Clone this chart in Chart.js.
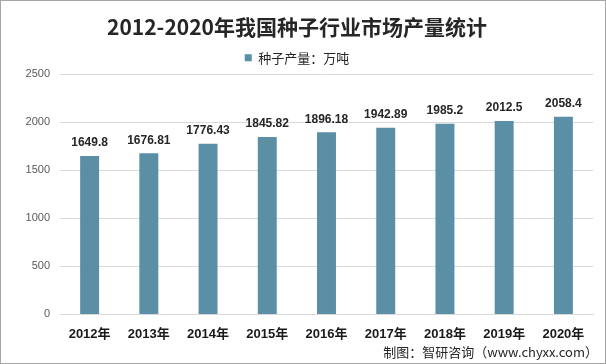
<!DOCTYPE html>
<html><head><meta charset="utf-8">
<script src="https://cdn.jsdelivr.net/npm/chart.js@4"></script>
<style>
html,body{margin:0;padding:0;background:#fff;}
#wrap{position:relative;width:606px;height:364px;box-sizing:border-box;border:1px solid #a6a6a6;}
canvas{display:block;}
</style></head><body>
<div id="wrap"><canvas id="c" width="604" height="362"></canvas></div>
<script>
const categories = ['2012年','2013年','2014年','2015年','2016年','2017年','2018年','2019年','2020年'];
const production = [1649.8, 1676.81, 1776.43, 1845.82, 1896.18, 1942.89, 1985.2, 2012.5, 2058.4];
const valueLabels = ['1649.8','1676.81','1776.43','1845.82','1896.18','1942.89','1985.2','2012.5','2058.4'];
const seriesName = '种子产量：万吨';
const titleText = '2012-2020年我国种子行业市场产量统计';
const sourceText = '制图：智研咨询（www.chyxx.com）';

const CJK = '"Noto Sans CJK SC", "Noto Sans", sans-serif';

const labelPlugin = {
  id: 'vals',
  afterDatasetsDraw(chart) {
    const ctx = chart.ctx;
    const meta = chart.getDatasetMeta(0);
    ctx.save();
    ctx.font = 'bold 12px "Liberation Sans", Arial, sans-serif';
    ctx.fillStyle = '#262626';
    ctx.textAlign = 'center';
    ctx.textBaseline = 'middle';
    meta.data.forEach((bar, i) => {
      ctx.fillText(valueLabels[i], bar.x, bar.y - 13);
    });
    ctx.restore();
  },
  afterDraw(chart) {
    const ctx = chart.ctx;
    ctx.save();
    ctx.font = '13px ' + CJK;
    ctx.fillStyle = '#262626';
    ctx.textAlign = 'right';
    ctx.textBaseline = 'middle';
    ctx.fillText(sourceText, 597, 351);
    ctx.restore();
  }
};

new Chart(document.getElementById('c'), {
  type: 'bar',
  data: {
    labels: categories,
    datasets: [{
      label: seriesName,
      data: production,
      backgroundColor: '#5a8fa6',
      borderWidth: 0,
      barPercentage: 0.32,
      categoryPercentage: 1.0
    }]
  },
  options: {
    responsive: false,
    animation: false,
    devicePixelRatio: 1,
    layout: { padding: { left: 0, right: 12, top: 0, bottom: 9 } },
    plugins: {
      title: {
        display: true,
        text: titleText,
        color: '#262626',
        font: { family: CJK, size: 21, weight: 'bold', lineHeight: 1.2 },
        padding: { top: 13, bottom: 2 }
      },
      legend: {
        display: true,
        labels: {
          boxWidth: 7, boxHeight: 7,
          color: '#262626',
          font: { family: CJK, size: 13 },
          padding: 10
        }
      },
      tooltip: { enabled: false }
    },
    scales: {
      x: {
        grid: { display: false, drawTicks: false },
        border: { display: true, color: '#d9d9d9' },
        ticks: {
          color: '#1a1a1a',
          font: { family: '"Liberation Sans", ' + CJK, size: 13, weight: 'bold' },
          padding: 12,
          maxRotation: 0
        }
      },
      y: {
        min: 0, max: 2500,
        ticks: {
          stepSize: 500,
          color: '#595959',
          font: { family: '"Liberation Sans", Arial, sans-serif', size: 11 },
          padding: 10,
          callback: (v) => String(v)
        },
        grid: { color: '#d9d9d9', drawTicks: false },
        border: { display: false },
        afterFit(scale) { scale.width = 59; }
      }
    }
  },
  plugins: [labelPlugin]
});
</script>
</body></html>
